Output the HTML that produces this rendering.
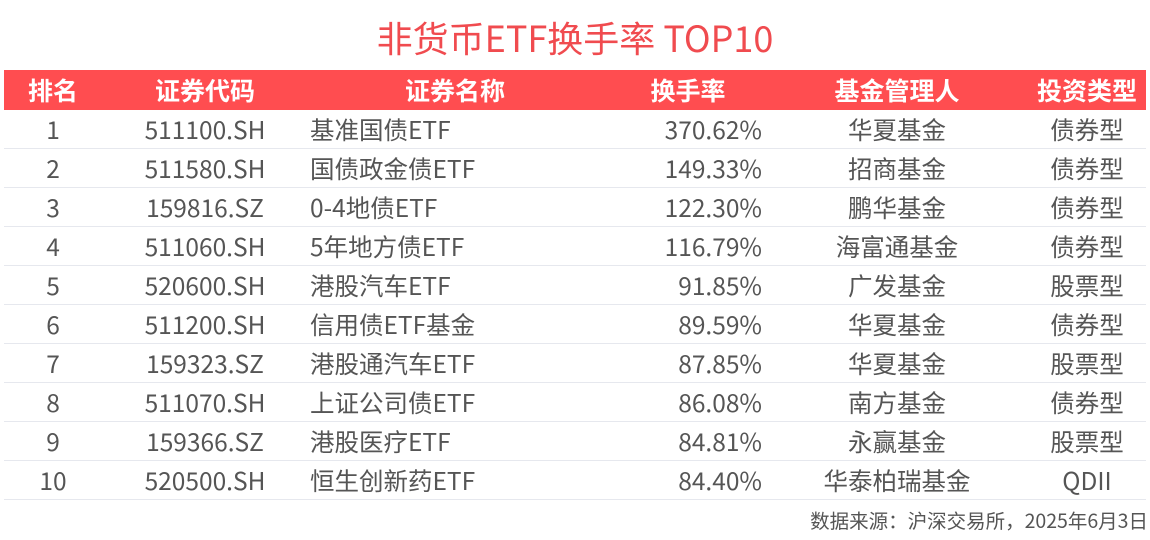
<!DOCTYPE html>
<html><head><meta charset="utf-8"><style>
body{margin:0;width:1150px;height:540px;background:#fff;font-family:"Noto Sans CJK SC",sans-serif;position:relative;overflow:hidden}
.t{position:absolute;top:12px;left:0;width:1150px;text-align:center;font-size:36px;color:#f04b4f;line-height:50px}
.hd{position:absolute;left:4px;top:70px;width:1142px;height:40px;background:#ff4d50}
.c{position:absolute;white-space:nowrap;line-height:40px;font-size:24.5px;color:#555}
.h .c{color:#fff;font-weight:bold;font-size:25px;line-height:40px}
.ln{position:absolute;left:4px;width:1142px;height:1px;background:#e6e8ee}
.f{position:absolute;right:2px;top:506px;font-size:19.5px;color:#555;line-height:28px}
</style></head><body>
<div class="t">非货币ETF换手率 TOP10</div>
<div class="hd"></div>
<div id="tb"></div>
<div class="f">数据来源：沪深交易所，2025年6月3日</div>
<script>
var R=[["1","511100.SH","基准国债ETF","370.62%","华夏基金","债券型"],["2","511580.SH","国债政金债ETF","149.33%","招商基金","债券型"],["3","159816.SZ","0-4地债ETF","122.30%","鹏华基金","债券型"],["4","511060.SH","5年地方债ETF","116.79%","海富通基金","债券型"],["5","520600.SH","港股汽车ETF","91.85%","广发基金","股票型"],["6","511200.SH","信用债ETF基金","89.59%","华夏基金","债券型"],["7","159323.SZ","港股通汽车ETF","87.85%","华夏基金","股票型"],["8","511070.SH","上证公司债ETF","86.08%","南方基金","债券型"],["9","159366.SZ","港股医疗ETF","84.81%","永赢基金","股票型"],["10","520500.SH","恒生创新药ETF","84.40%","华泰柏瑞基金","QDII"]];
var h='';
function row(r,y,cls){
 var s='<div class="'+cls+'">';
 s+='<div class="c" style="top:'+y+'px;left:3px;width:100px;text-align:center">'+r[0]+'</div>';
 s+='<div class="c" style="top:'+y+'px;left:105px;width:200px;text-align:center">'+r[1]+'</div>';
 if(cls=='h'){s+='<div class="c" style="top:'+y+'px;left:355px;width:200px;text-align:center">'+r[2]+'</div>';
 s+='<div class="c" style="top:'+y+'px;left:588px;width:200px;text-align:center">'+r[3]+'</div>';}
 else{s+='<div class="c" style="top:'+y+'px;left:310px">'+r[2]+'</div>';
 s+='<div class="c" style="top:'+y+'px;left:562px;width:200px;text-align:right">'+r[3]+'</div>';}
 s+='<div class="c" style="top:'+y+'px;left:797px;width:200px;text-align:center">'+r[4]+'</div>';
 s+='<div class="c" style="top:'+y+'px;left:1027px;width:120px;text-align:center">'+r[5]+'</div>';
 return s+'</div>';
}
h+=row(["排名","证券代码","证券名称","换手率","基金管理人","投资类型"],70,'h');
for(var i=0;i<10;i++){var y=110+i*39;h+=row(R[i],y,'b');h+='<div class="ln" style="top:'+(y+38)+'px"></div>';}
document.getElementById('tb').innerHTML=h;
</script>
</body></html>
